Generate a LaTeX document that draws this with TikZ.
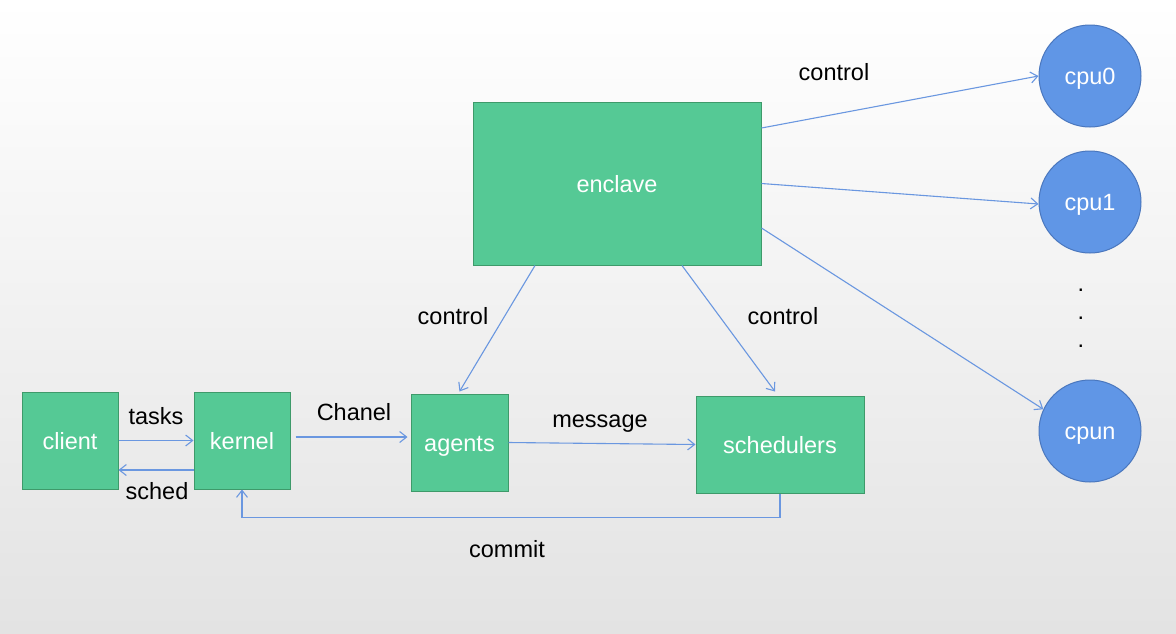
\documentclass[tikz,border=0pt]{standalone}
\usepackage{fontspec}
\setmainfont{Liberation Sans}
\usetikzlibrary{arrows.meta}
\definecolor{boxfill}{HTML}{55C995}
\definecolor{boxline}{HTML}{3E9A6A}
\definecolor{cpufill}{HTML}{6096E6}
\definecolor{cpuline}{HTML}{4A77BE}
\definecolor{arrcol}{HTML}{6A97E0}
\tikzset{
  txt/.style={font=\fontsize{23.5}{28}\selectfont, text height=21pt, text depth=4pt},
  gbox/.style={txt, draw=boxline, line width=1pt, fill=boxfill, text=white, inner sep=0pt},
  cpu/.style={txt, circle, draw=cpuline, line width=1pt, fill=cpufill, text=white, minimum size=102pt, inner sep=0pt},
  arr/.style={draw=arrcol, line width=1.1pt, -{Straight Barb[length=7pt,width=11pt]}},
  lbl/.style={txt, text=black, inner sep=0pt},
}
\begin{document}
\begin{tikzpicture}[x=1pt,y=-1pt]
\shade[top color=white, bottom color=black!11] (0,0) rectangle (1176,633);
\useasboundingbox (0,0) rectangle (1176,633);

\node[gbox, minimum width=96pt, minimum height=97pt] (client) at (70,440.5) {client};
\node[gbox, minimum width=96pt, minimum height=97pt] (kernel) at (242,440.5) {kernel};
\node[gbox, minimum width=97pt, minimum height=97pt] (agents) at (459.5,442.5) {agents};
\node[gbox, minimum width=168pt, minimum height=97pt] (sched) at (780,444.5) {schedulers};
\node[gbox, minimum width=288pt, minimum height=163pt] (enclave) at (617,183.5) {enclave};

\node[cpu] (cpu0) at (1090,76) {cpu0};
\node[cpu] (cpu1) at (1090,202) {cpu1};
\node[cpu] (cpun) at (1090,431) {cpun};

\node[lbl] (d1) at (1081,283) {.};
\node[lbl] (d2) at (1081,311) {.};
\node[lbl] (d3) at (1081,339) {.};

\draw[arr] (client.east) -- (kernel.west);
\draw[arr] ([yshift=-29.5pt]kernel.west) -- ([yshift=-29.5pt]client.east);
\draw[arr] ([xshift=5pt,yshift=3.5pt]kernel.east) -- ([xshift=-3pt,yshift=5.5pt]agents.west);
\draw[arr] (agents.east) -- (sched.west);
\draw[arr] (sched.south) -- ++(0,24) -| (kernel.south);

\draw[arr] ([xshift=-82pt]enclave.south) -- ([yshift=2pt]agents.north);
\draw[arr] ([xshift=65pt]enclave.south) -- ([xshift=-5pt,yshift=4pt]sched.north);

\draw[arr] ([yshift=55.5pt]enclave.east) -- (cpu0.west);
\draw[arr] (enclave.east) -- ([yshift=-2pt]cpu1.west);
\draw[arr] ([yshift=-44.5pt]enclave.east) -- (cpun.155);

\node[lbl] (ltasks) at (156,416) {tasks};
\node[lbl] (lsched) at (157,491) {sched};
\node[lbl] (lchan) at (354,412) {Chanel};
\node[lbl] (lmsg) at (600,419) {message};
\node[lbl] (lcommit) at (507,549) {commit};
\node[lbl] (lc1) at (453,316) {control};
\node[lbl] (lc2) at (783,316) {control};
\node[lbl] (lc3) at (834,72) {control};
\end{tikzpicture}
\end{document}
